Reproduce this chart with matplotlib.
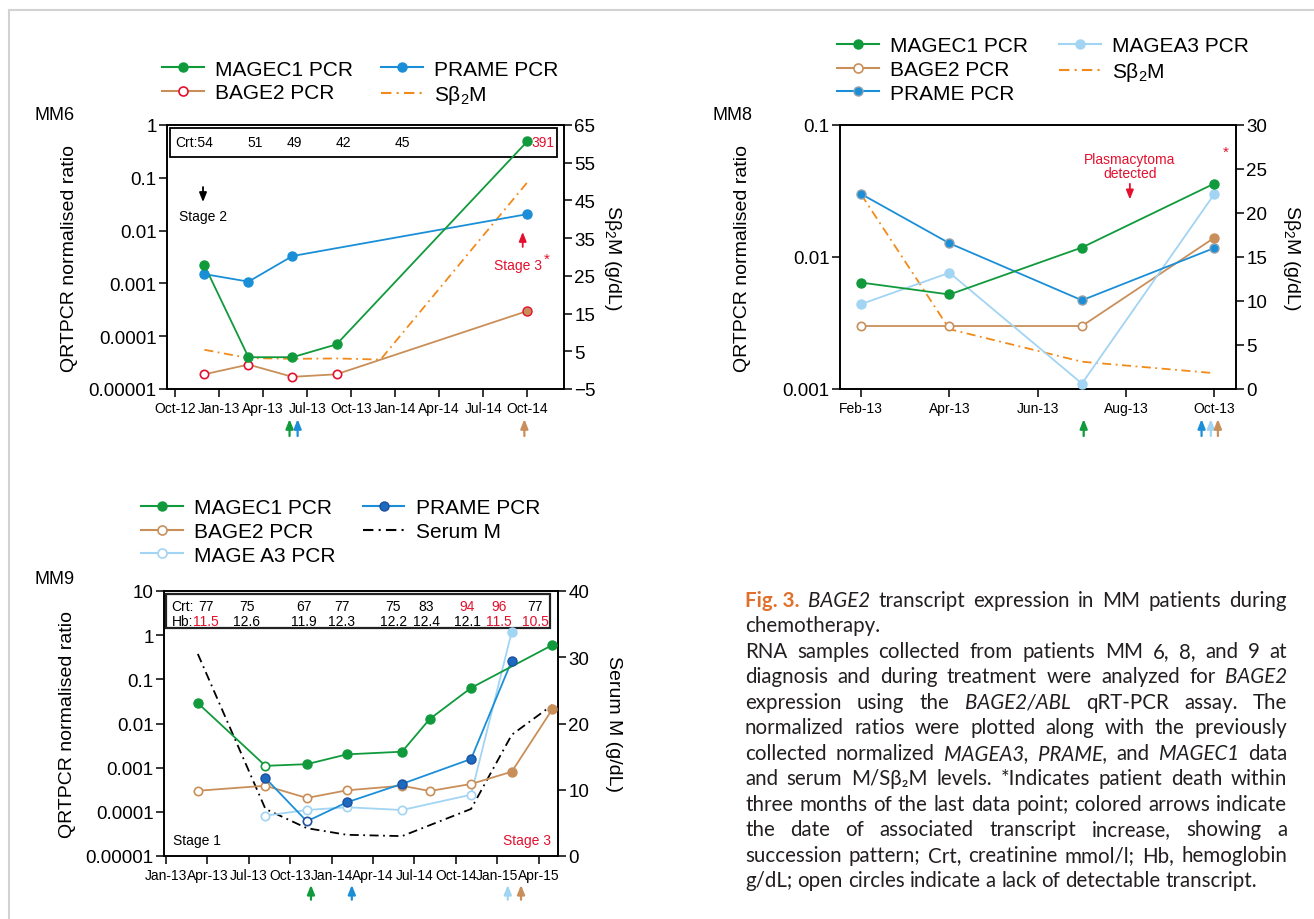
import matplotlib
matplotlib.use('Agg')
import numpy as np
import matplotlib.pyplot as plt
from matplotlib.lines import Line2D
from matplotlib.patches import Rectangle

plt.rcParams['font.family'] = ['Liberation Sans', 'DejaVu Sans']
plt.rcParams['mathtext.fontset'] = 'custom'
plt.rcParams['mathtext.rm'] = 'Liberation Sans'
plt.rcParams['mathtext.it'] = 'Liberation Sans:italic'

W, H = 1314, 920
MONTHS = ['Jan', 'Feb', 'Mar', 'Apr', 'May', 'Jun', 'Jul', 'Aug', 'Sep', 'Oct', 'Nov', 'Dec']

GREEN = '#109a3c'
BLUE = '#1a8fd8'
NAVY = '#1f4e9c'
TAN = '#c98f5a'
LIGHT = '#a2d4f3'
RED = '#e4102e'
ORANGE = '#f28a1a'
SB2M = r'S$\mathregular{\beta_2}$M'

# ---- MM6 (x = months since Jan-13) ----
mm6_magec1_x = [-1, 2, 5, 8, 21]
mm6_magec1 = [2.2e-3, 4.0e-5, 4.0e-5, 7.0e-5, 0.49]
mm6_prame_x = [-1, 2, 5, 21]
mm6_prame = [1.5e-3, 1.08e-3, 3.3e-3, 0.0205]
mm6_bage2_x = [-1, 2, 5, 8, 21]
mm6_bage2 = [1.9e-5, 2.9e-5, 1.7e-5, 1.9e-5, 3.0e-4]
mm6_bage2_found = [0, 0, 0, 0, 1]
mm6_sb2m_x = [-1, 2, 5, 8, 11, 21]
mm6_sb2m = [5.4, 3.2, 3.0, 3.1, 2.8, 49.8]
mm6_crt = ['51', '49', '42', '45']
mm6_ticks = list(range(-3, 22, 3))

# ---- MM8 ----
mm8_x = [1, 3, 6, 9]
mm8_magec1 = [0.0064, 0.0052, 0.0118, 0.036]
mm8_prame = [0.030, 0.0127, 0.0047, 0.0117]
mm8_magea3 = [0.0044, 0.0076, 0.0011, 0.030]
mm8_bage2 = [0.003, 0.003, 0.003, 0.014]
mm8_bage2_found = [0, 0, 0, 1]
mm8_sb2m = [22.1, 6.8, 3.1, 1.8]
mm8_ticks = [1, 3, 5, 7, 9]

# ---- MM9 ----
mm9_magec1_x = [2.3, 7.2, 10.2, 13.1, 17.1, 19.1, 22.1, 28.0]
mm9_magec1 = [0.029, 0.0011, 0.0012, 0.002, 0.0023, 0.0126, 0.064, 0.6]
mm9_magec1_found = [1, 0, 1, 1, 1, 1, 1, 1]
mm9_prame_x = [7.2, 10.2, 13.1, 17.1, 22.1, 25.05]
mm9_prame = [5.8e-4, 6.1e-5, 1.64e-4, 4.3e-4, 1.57e-3, 0.264]
mm9_prame_found = [1, 0, 1, 1, 1, 1]
mm9_bage2_x = [2.3, 7.2, 10.2, 13.1, 17.1, 19.1, 22.1, 25.05, 28.0]
mm9_bage2 = [3.0e-4, 3.9e-4, 2.06e-4, 3.07e-4, 3.9e-4, 2.96e-4, 4.27e-4, 8.1e-4, 0.0213]
mm9_bage2_found = [0, 0, 0, 0, 0, 0, 0, 1, 1]
mm9_magea3_x = [7.2, 10.2, 13.1, 17.1, 22.1, 25.05]
mm9_magea3 = [8.2e-5, 1.1e-4, 1.27e-4, 1.1e-4, 2.44e-4, 1.2]
mm9_magea3_found = [0, 0, 0, 0, 0, 1]
mm9_serum_x = [2.3, 7.2, 10.2, 13.1, 17.1, 22.1, 25.05, 28.0]
mm9_serum = [30.5, 7.1, 4.2, 3.2, 3.0, 7.1, 18.3, 22.8]
mm9_crt = ['77', '75', '67', '77', '75', '83', '94', '96', '77']
mm9_crt_red = [0, 0, 0, 0, 0, 0, 1, 1, 0]
mm9_hb = ['11.5', '12.6', '11.9', '12.3', '12.2', '12.4', '12.1', '11.5', '10.5']
mm9_hb_red = [1, 0, 0, 0, 0, 0, 0, 1, 1]
mm9_ticks = list(range(0, 28, 3))

CAPTION = [
    "#Fig._3. ~BAGE2 transcript expression in MM patients during",
    "chemotherapy.",
    "RNA samples collected from patients MM 6, 8, and 9 at",
    "diagnosis and during treatment were analyzed for ~BAGE2",
    "expression using the ~BAGE2/ABL qRT-PCR assay. The",
    "normalized ratios were plotted along with the previously",
    "collected normalized ~MAGEA3, ~PRAME, and ~MAGEC1 data",
    "and serum M/Sβ₂M levels. *Indicates patient death within",
    "three months of the last data point; colored arrows indicate",
    "the date of associated transcript increase, showing a",
    "succession pattern; Crt, creatinine mmol/l; Hb, hemoglobin",
    "g/dL; open circles indicate a lack of detectable transcript.",
]
CAPTION_JUSTIFY = [1, 0, 1, 1, 1, 1, 1, 1, 1, 1, 1, 0]


def box(l, t, r, b):
    return [l / W, 1 - b / H, (r - l) / W, (b - t) / H]


def month_label(m):
    return f'{MONTHS[m % 12]}-{13 + m // 12}'


def series(ax, x, y, color, found=None, face=None, edge=None, open_edge=None, ms=6.5):
    x = np.asarray(x, float)
    y = np.asarray(y, float)
    found = np.ones(len(x), bool) if found is None else np.asarray(found, bool)
    ax.plot(x, y, color=color, lw=1.3, zorder=3)
    ax.plot(x[found], y[found], 'o', ms=ms, mfc=face or color, mec=edge or color, mew=1.0, zorder=4, clip_on=False)
    ax.plot(x[~found], y[~found], 'o', ms=ms - 0.5, mfc='white', mec=open_edge or color, mew=1.2, zorder=4,
            clip_on=False)


def arrow(ax, x, y0, y1, color, xcoord='axes fraction', lw=1.6):
    ax.annotate('', xy=(x, y1), xytext=(x, y0), xycoords=(xcoord, 'axes fraction'),
                textcoords=(xcoord, 'axes fraction'), annotation_clip=False,
                arrowprops=dict(arrowstyle='-|>,head_length=0.55,head_width=0.22', color=color, lw=lw,
                                shrinkA=0, shrinkB=0, mutation_scale=10))


def setup(rect, xlim, ticks, ylim_l, ylim_r, rticks, ylabel, rlabel, rlabel_x):
    ax = fig.add_axes(box(*rect))
    ax.set_yscale('log')
    ax.set_xlim(*xlim)
    ax.set_ylim(*ylim_l)
    ax.set_xticks(ticks)
    ax.set_xticklabels([month_label(m) for m in ticks])
    dec = np.arange(int(np.log10(ylim_l[0])), int(np.log10(ylim_l[1])) + 1)
    ax.set_yticks(10.0 ** dec)
    ax.set_yticklabels([f'{10.0 ** d:.{max(0, -d)}f}' for d in dec])
    ax.yaxis.set_minor_locator(matplotlib.ticker.NullLocator())
    ax2 = ax.twinx()
    ax2.set_ylim(*ylim_r)
    ax2.set_yticks(rticks)
    for a in (ax, ax2):
        for s in a.spines.values():
            s.set_linewidth(1.2)
        a.tick_params(direction='out', length=5.5, width=1.1, labelsize=13.5, pad=2)
    ax.tick_params(axis='x', labelsize=10, pad=3)
    ax.text(-0.245, 0.5, ylabel, transform=ax.transAxes, rotation=90, ha='center', va='center', fontsize=14)
    ax2.text(rlabel_x, 0.5, rlabel, transform=ax.transAxes, rotation=-90, ha='center', va='center', fontsize=14)
    ax.set_zorder(ax2.get_zorder() + 1)
    ax.patch.set_visible(False)
    return ax, ax2


def legend(handles, labels, left, top, colsp):
    fig.legend(handles, labels, loc='upper left', bbox_to_anchor=(left / W, 1 - top / H), ncol=2,
               frameon=False, fontsize=15, handlelength=2.0, handletextpad=0.55, columnspacing=colsp,
               labelspacing=0.22, borderpad=0, borderaxespad=0)


def handle(color, face=None, edge=None, ls='-', marker='o', mew=1.0):
    return Line2D([], [], color=color, lw=1.5, ls=ls, marker=marker, ms=6.5, mfc=face or color,
                  mec=edge or color, mew=mew)


fig = plt.figure(figsize=(W / 100, H / 100), dpi=100)

# frame of the page
fig.add_artist(Line2D([9 / W, 1], [1 - 11 / H] * 2, color='#d2d2d2', lw=1.5))
fig.add_artist(Line2D([9 / W] * 2, [0, 1 - 11 / H], color='#d2d2d2', lw=1.5))

dashdot = (0, (5, 2.5, 1, 2.5))

# ================= MM6 =================
ax, ax2 = setup((167, 126, 564, 390), (-3.55, 23.5), mm6_ticks, (1e-5, 1), (-5, 65), range(-5, 66, 10),
                'QRTPCR normalised ratio', SB2M + ' (g/dL)', 1.122)
ax2.plot(mm6_sb2m_x, mm6_sb2m, color=ORANGE, lw=1.3, ls=dashdot, zorder=2)
series(ax, mm6_bage2_x, mm6_bage2, TAN, mm6_bage2_found, face=TAN, edge=RED, open_edge=RED)
series(ax, mm6_prame_x, mm6_prame, BLUE)
series(ax, mm6_magec1_x, mm6_magec1, GREEN)
ax.add_patch(Rectangle((0.008, 0.878), 0.974, 0.111, transform=ax.transAxes, fill=False, lw=1.3, zorder=2))
ax.text(0.02, 0.936, 'Crt:54', transform=ax.transAxes, fontsize=10, va='center')
for xf, v in zip([0.222, 0.32, 0.445, 0.594], mm6_crt):
    ax.text(xf, 0.936, v, transform=ax.transAxes, fontsize=10, va='center', ha='center')
ax.text(0.947, 0.936, '391', transform=ax.transAxes, fontsize=10, va='center', ha='center', color=RED)
arrow(ax, 0.0907, 0.765, 0.708, 'black', lw=1.3)
ax.text(0.0907, 0.655, 'Stage 2', transform=ax.transAxes, fontsize=10, ha='center', va='center')
arrow(ax, 0.896, 0.538, 0.595, RED, lw=1.3)
ax.text(0.884, 0.47, 'Stage 3', transform=ax.transAxes, fontsize=10, ha='center', va='center', color=RED)
ax.text(0.957, 0.495, '*', transform=ax.transAxes, fontsize=11, ha='center', va='center', color=RED)
for xm, c in zip([4.8, 5.35, 20.8], [GREEN, BLUE, TAN]):
    arrow(ax, xm, -0.178, -0.114, c, xcoord='data')
fig.text(35 / W, 1 - 115 / H, 'MM6', fontsize=13, va='center')
legend([handle(GREEN), handle(TAN, face='white', edge=RED, mew=1.2), handle(BLUE),
        handle(ORANGE, ls=dashdot, marker='')],
       ['MAGEC1 PCR', 'BAGE2 PCR', 'PRAME PCR', SB2M], 162, 60.5, 1.35)

# ================= MM8 =================
ax, ax2 = setup((840, 126, 1236, 390), (0.52, 9.49), mm8_ticks, (1e-3, 0.1), (0, 30), range(0, 31, 5),
                'QRTPCR normalised ratio', SB2M + ' (g/dL)', 1.14)
ax2.plot(mm8_x, mm8_sb2m, color=ORANGE, lw=1.3, ls=dashdot, zorder=2)
series(ax, mm8_x, mm8_bage2, TAN, mm8_bage2_found)
series(ax, mm8_x, mm8_magea3, LIGHT)
series(ax, mm8_x, mm8_prame, BLUE, edge='#8fa0ae')
series(ax, mm8_x, mm8_magec1, GREEN)
ax.text(0.732, 0.846, 'Plasmacytoma\ndetected', transform=ax.transAxes, fontsize=10, ha='center',
        va='center', color=RED, linespacing=1.0)
arrow(ax, 0.732, 0.777, 0.718, RED, lw=1.3)
ax.text(0.974, 0.9, '*', transform=ax.transAxes, fontsize=11, ha='center', va='center', color=RED)
for xm, c in zip([6.04, 8.71, 8.92, 9.08], [GREEN, BLUE, LIGHT, TAN]):
    arrow(ax, xm, -0.178, -0.114, c, xcoord='data')
fig.text(712 / W, 1 - 115 / H, 'MM8', fontsize=13, va='center')
legend([handle(GREEN), handle(TAN, face='white', mew=1.2), handle(BLUE, edge='#8fa0ae'), handle(LIGHT),
        handle(ORANGE, ls=dashdot, marker='')],
       ['MAGEC1 PCR', 'BAGE2 PCR', 'PRAME PCR', 'MAGEA3 PCR', SB2M], 837, 37.5, 1.5)

# ================= MM9 =================
ax, ax2 = setup((164, 592, 558, 857), (-0.15, 28.4), mm9_ticks, (1e-5, 10), (0, 40), range(0, 41, 10),
                'QRTPCR normalised ratio', 'Serum M (g/dL)', 1.14)
ax2.plot(mm9_serum_x, mm9_serum, color='black', lw=1.3, ls=dashdot, zorder=2)
series(ax, mm9_bage2_x, mm9_bage2, TAN, mm9_bage2_found)
series(ax, mm9_magea3_x, mm9_magea3, LIGHT, mm9_magea3_found)
series(ax, mm9_prame_x, mm9_prame, BLUE, mm9_prame_found, face='#1b6cc0', edge=NAVY, open_edge=NAVY)
series(ax, mm9_magec1_x, mm9_magec1, GREEN, mm9_magec1_found)
ax.add_patch(Rectangle((0.005, 0.859), 0.975, 0.13, transform=ax.transAxes, fill=False, lw=1.6,
                       ec='#222222', zorder=2))
ax.text(0.0195, 0.9445, 'Crt:', transform=ax.transAxes, fontsize=10, va='center')
ax.text(0.0195, 0.888, 'Hb:', transform=ax.transAxes, fontsize=10, va='center')
crt_x = [206, 246.7, 304, 341.7, 393.3, 426, 467.3, 499, 535]
for px, c, cr, h, hr in zip(crt_x, mm9_crt, mm9_crt_red, mm9_hb, mm9_hb_red):
    xf = (px - 164) / 394
    ax.text(xf, 0.9445, c, transform=ax.transAxes, fontsize=10, va='center', ha='center',
            color=RED if cr else 'black')
    ax.text(xf, 0.888, h, transform=ax.transAxes, fontsize=10, va='center', ha='center',
            color=RED if hr else 'black')
ax.text(0.083, 0.0615, 'Stage 1', transform=ax.transAxes, fontsize=10, ha='center', va='center')
ax.text(0.9206, 0.0615, 'Stage 3', transform=ax.transAxes, fontsize=10, ha='center', va='center', color=RED)
for xm, c in zip([10.5, 13.46, 24.76, 25.72], [GREEN, BLUE, LIGHT, TAN]):
    arrow(ax, xm, -0.165, -0.109, c, xcoord='data')
fig.text(35 / W, 1 - 580 / H, 'MM9', fontsize=13, va='center')
legend([handle(GREEN), handle(TAN, face='white', mew=1.2), handle(LIGHT, face='white', mew=1.2),
        handle(BLUE, face='#1b6cc0', edge=NAVY), handle('black', ls=dashdot, marker='')],
       ['MAGEC1 PCR', 'BAGE2 PCR', 'MAGE A3 PCR', 'PRAME PCR', 'Serum M'], 141, 499.5, 1.3)

# ================= caption =================
renderer = fig.canvas.get_renderer()
cap_family = ['Lato', 'Liberation Sans', 'DejaVu Sans']
cap_size = 14.8
x0, x1 = 745, 1287
for i, (line, just) in enumerate(zip(CAPTION, CAPTION_JUSTIFY)):
    base = 607 + i * 25.5
    texts = []
    for word in line.split(' '):
        kw = dict(color='#231f20', style='normal', weight='normal')
        if word.startswith('~'):
            word, kw['style'] = word[1:], 'italic'
        elif word.startswith('#'):
            word, kw['weight'], kw['color'] = word[1:].replace('_', ' '), 'bold', '#e0702c'
        texts.append(fig.text(0, 1 - base / H, word, fontsize=cap_size, family=cap_family, va='baseline', **kw))
    widths = [t.get_window_extent(renderer).width for t in texts]
    gap = (x1 - x0 - sum(widths)) / (len(texts) - 1) if just else cap_size * 100 / 72 * 0.25
    x = x0
    for t, w in zip(texts, widths):
        t.set_x(x / W)
        x += w + gap

fig.savefig('out.png', dpi=100)
